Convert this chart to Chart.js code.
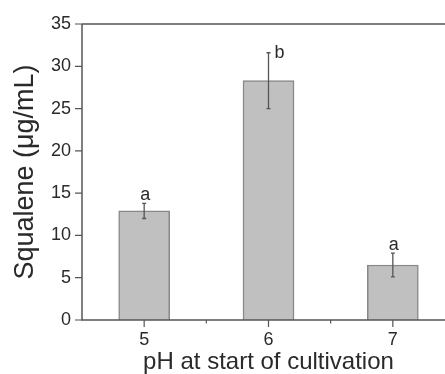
<!DOCTYPE html>
<html>
<head>
<meta charset="utf-8">
<script src="https://cdn.jsdelivr.net/npm/chart.js@4"></script>
<style>
  html, body { margin: 0; padding: 0; background: #fff; overflow: hidden; }
  #wrap { width: 464px; height: 374px; }
</style>
</head>
<body>
<div id="wrap"><canvas id="squaleneChart"></canvas></div>
<script>
// values
const phValues = [5, 6, 7];
const squalene = [12.9, 28.3, 6.5];
const errors = [0.9, 3.3, 1.4];
const letters = ["a", "b", "a"];
const yTicks = [0, 5, 10, 15, 20, 25, 30, 35];
const xTicks = [5, 6, 7];

const axisColor = "#555";
const textColor = "#2a2a2a";
const fontFamily = "'Liberation Sans', Arial, sans-serif";

// tick marks, frame, error bars and letters
const extras = {
  id: "extras",
  afterDatasetsDraw(chart) {
    const { ctx, chartArea: a, scales: { x, y } } = chart;
    ctx.save();
    ctx.strokeStyle = axisColor;
    ctx.lineWidth = 1.5;

    // frame (right side falls outside the picture)
    ctx.beginPath();
    ctx.moveTo(a.left, a.top);
    ctx.lineTo(a.right, a.top);
    ctx.moveTo(a.left, a.top);
    ctx.lineTo(a.left, a.bottom);
    ctx.lineTo(a.right, a.bottom);
    ctx.stroke();

    // y ticks, major and minor
    ctx.lineWidth = 1.2;
    ctx.beginPath();
    y.ticks.forEach(t => {
      const py = y.getPixelForValue(t.value);
      const len = yTicks.includes(t.value) ? 7 : 3.5;
      ctx.moveTo(a.left - len, py);
      ctx.lineTo(a.left, py);
    });
    x.ticks.forEach(t => {
      if (t.value <= x.min || t.value >= x.max) return;
      const px = x.getPixelForValue(t.value);
      const len = xTicks.includes(t.value) ? 7 : 3.5;
      ctx.moveTo(px, a.bottom);
      ctx.lineTo(px, a.bottom + len);
    });
    ctx.stroke();

    // error bars
    ctx.strokeStyle = "#555";
    ctx.lineWidth = 1.3;
    ctx.beginPath();
    phValues.forEach((ph, i) => {
      const px = x.getPixelForValue(ph);
      const top = y.getPixelForValue(squalene[i] + errors[i]);
      const bot = y.getPixelForValue(squalene[i] - errors[i]);
      ctx.moveTo(px, top);
      ctx.lineTo(px, bot);
      ctx.moveTo(px - 2, top);
      ctx.lineTo(px + 2, top);
      ctx.moveTo(px - 2, bot);
      ctx.lineTo(px + 2, bot);
    });
    ctx.stroke();

    // significance letters
    ctx.fillStyle = textColor;
    ctx.font = "18px " + fontFamily;
    ctx.textAlign = "center";
    ctx.textBaseline = "alphabetic";
    phValues.forEach((ph, i) => {
      const px = x.getPixelForValue(ph);
      const top = y.getPixelForValue(squalene[i] + errors[i]);
      const isTall = errors[i] > 2;
      ctx.fillText(letters[i], isTall ? px + 11 : px + 1, isTall ? top + 5 : top - 3);
    });
    ctx.restore();
  }
};

new Chart(document.getElementById("squaleneChart"), {
  type: "bar",
  data: {
    datasets: [{
      data: phValues.map((ph, i) => ({ x: ph, y: squalene[i] })),
      backgroundColor: "#c0c0c0",
      borderColor: "#888",
      borderWidth: 1.5,
      barThickness: 51
    }]
  },
  options: {
    responsive: true,
    maintainAspectRatio: false,
    animation: false,
    layout: { padding: { top: 24, right: 4, left: 0, bottom: 0 } },
    plugins: { legend: { display: false }, tooltip: { enabled: false } },
    scales: {
      x: {
        type: "linear",
        offset: false,
        min: 4.5,
        max: 7.5,
        grid: { display: false, drawTicks: false, offset: false },
        border: { display: false },
        ticks: {
          stepSize: 0.5,
          padding: 9,
          color: textColor,
          font: { size: 18, family: fontFamily },
          callback: v => xTicks.includes(v) ? String(v) : ""
        },
        title: {
          display: true,
          text: "pH at start of cultivation",
          color: textColor,
          font: { size: 24, family: fontFamily, lineHeight: 1 },
          padding: { top: 0, bottom: 0 }
        },
        afterFit: s => { s.height = 54; }
      },
      y: {
        min: 0,
        max: 35,
        grid: { display: false, drawTicks: false },
        border: { display: false },
        ticks: {
          stepSize: 2.5,
          padding: 11,
          color: textColor,
          font: { size: 18, family: fontFamily },
          callback: v => yTicks.includes(v) ? String(v) : ""
        },
        title: {
          display: true,
          text: "Squalene (μg/mL)",
          color: textColor,
          font: { size: 27, family: fontFamily },
          padding: { top: 9, bottom: 0 }
        },
        afterFit: s => { s.width = 82; }
      }
    }
  },
  plugins: [extras]
});
</script>
</body>
</html>
